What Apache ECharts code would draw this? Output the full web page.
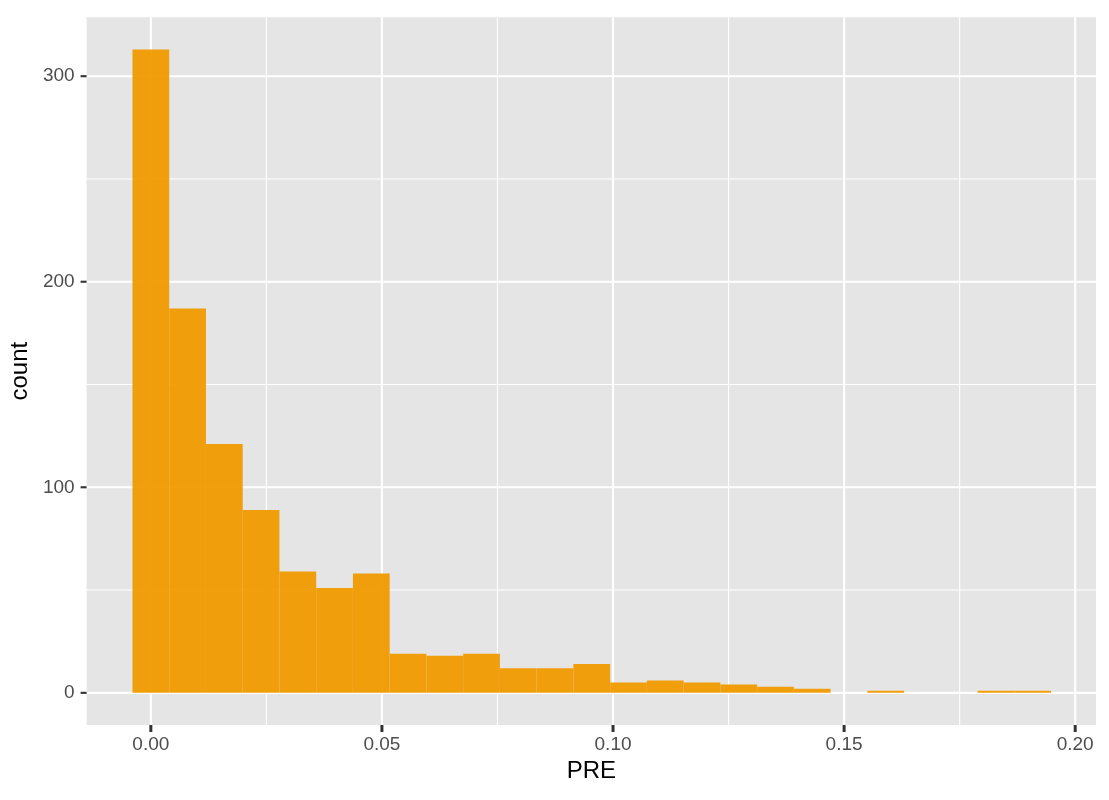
<!DOCTYPE html>
<html>
<head>
<meta charset="utf-8">
<script src="https://cdn.jsdelivr.net/npm/echarts@6/dist/echarts.min.js"></script>
<style>
html,body{margin:0;padding:0;background:#fff;}
#chart{width:1109px;height:800px;}
</style>
</head>
<body>
<div id="chart"></div>
<script>
// Histogram data (bin centers start at 0, constant bin width)
const binWidth = 0.00795;
const binCenters = [0.0000, 0.00795, 0.0159, 0.02385, 0.0318, 0.03975, 0.0477, 0.05565, 0.0636, 0.07155,
                    0.0795, 0.08745, 0.0954, 0.10335, 0.1113, 0.11925, 0.1272, 0.13515, 0.1431, 0.15105,
                    0.159, 0.16695, 0.1749, 0.18285, 0.1908];
const counts = [313, 187, 121, 89, 59, 51, 58, 19, 18, 19,
                12, 12, 14, 5, 6, 5, 4, 3, 2, 0,
                1, 0, 0, 1, 1];
const xTicks = [0, 0.05, 0.10, 0.15, 0.20];
const xMinor = [0.025, 0.075, 0.125, 0.175];
const yTicks = [0, 100, 200, 300];
const yMinor = [50, 150, 250];

const FONT = "'Liberation Sans', Arial, Helvetica, sans-serif";
const chart = echarts.init(document.getElementById('chart'), null, {renderer: 'canvas'});

// kind: 0 = minor grid, 1 = major grid, 2 = tick mark ; dir: 0 = x, 1 = y
const guideData = [];
xMinor.forEach(v => guideData.push([v, 0, 0]));
yMinor.forEach(v => guideData.push([v, 1, 0]));
xTicks.forEach(v => { guideData.push([v, 0, 1]); });
yTicks.forEach(v => { guideData.push([v, 1, 1]); guideData.push([v, 1, 2]); });

const option = {
  backgroundColor: '#FFFFFF',
  animation: false,
  grid: {
    left: 85, right: 13, top: 17.3, bottom: 75,
    show: true, backgroundColor: '#E5E5E5', borderWidth: 0,
    containLabel: false
  },
  xAxis: {
    type: 'value',
    min: -0.0139, max: 0.2045,
    name: 'PRE',
    nameLocation: 'middle',
    nameGap: 32,
    nameTextStyle: {color: '#000000', fontSize: 24, fontFamily: FONT},
    axisLine: {show: false},
    splitLine: {show: false},
    axisTick: {show: false},
    axisLabel: {
      customValues: xTicks, margin: 10,
      color: '#4D4D4D', fontSize: 19, fontFamily: FONT,
      formatter: v => v.toFixed(2)
    }
  },
  yAxis: {
    type: 'value',
    min: -15.65, max: 328.65,
    name: 'count',
    nameLocation: 'middle',
    nameGap: 46,
    nameTextStyle: {color: '#000000', fontSize: 24, fontFamily: FONT},
    axisLine: {show: false},
    splitLine: {show: false},
    axisTick: {show: false},
    axisLabel: {
      customValues: yTicks, margin: 12,
      color: '#4D4D4D', fontSize: 19, fontFamily: FONT
    }
  },
  series: [
    {
      type: 'custom',
      silent: true,
      clip: false,
      z: 1,
      data: guideData,
      encode: {x: 0},
      renderItem: function (params, api) {
        const cs = params.coordSys;
        const v = api.value(0), dir = api.value(1), kind = api.value(2);
        let shape;
        if (dir === 0) {
          const px = api.coord([v, 0])[0];
          const yb = cs.y + cs.height;
          shape = {x1: px, y1: cs.y, x2: px, y2: yb};
        } else {
          const py = api.coord([0, v])[1];
          shape = kind === 2 ? {x1: cs.x - 6, y1: py, x2: cs.x, y2: py}
                             : {x1: cs.x, y1: py, x2: cs.x + cs.width, y2: py};
        }
        const stroke = kind === 2 ? '#333333' : '#FFFFFF';
        const lw = kind === 0 ? 1.1 : 2.1;
        return {type: 'line', shape: shape, style: {stroke: stroke, lineWidth: lw}};
      }
    },
    {
      type: 'custom',
      z: 2,
      data: binCenters.map((c, i) => [c, counts[i]]),
      encode: {x: 0, y: 1},
      renderItem: function (params, api) {
        const c = api.value(0), n = api.value(1);
        if (!n) return null;
        const p1 = api.coord([c - binWidth / 2, n]);
        const p2 = api.coord([c + binWidth / 2, 0]);
        return {
          type: 'rect',
          shape: {x: p1[0], y: p1[1], width: p2[0] - p1[0], height: p2[1] - p1[1]},
          style: {fill: 'rgba(241,154,0,0.95)'}
        };
      }
    }
  ]
};
chart.setOption(option);

// x-axis tick marks placed through the axis scale
const gridRect = chart.getModel().getComponent('grid', 0).coordinateSystem.getRect();
const yBottom = gridRect.y + gridRect.height;
chart.setOption({
  graphic: xTicks.map(v => {
    const px = chart.convertToPixel({xAxisIndex: 0}, v);
    return {
      type: 'rect', silent: true, z: 100,
      shape: {x: px - 1.5, y: yBottom, width: 3, height: 7},
      style: {fill: '#333333'}
    };
  })
});
</script>
</body>
</html>
